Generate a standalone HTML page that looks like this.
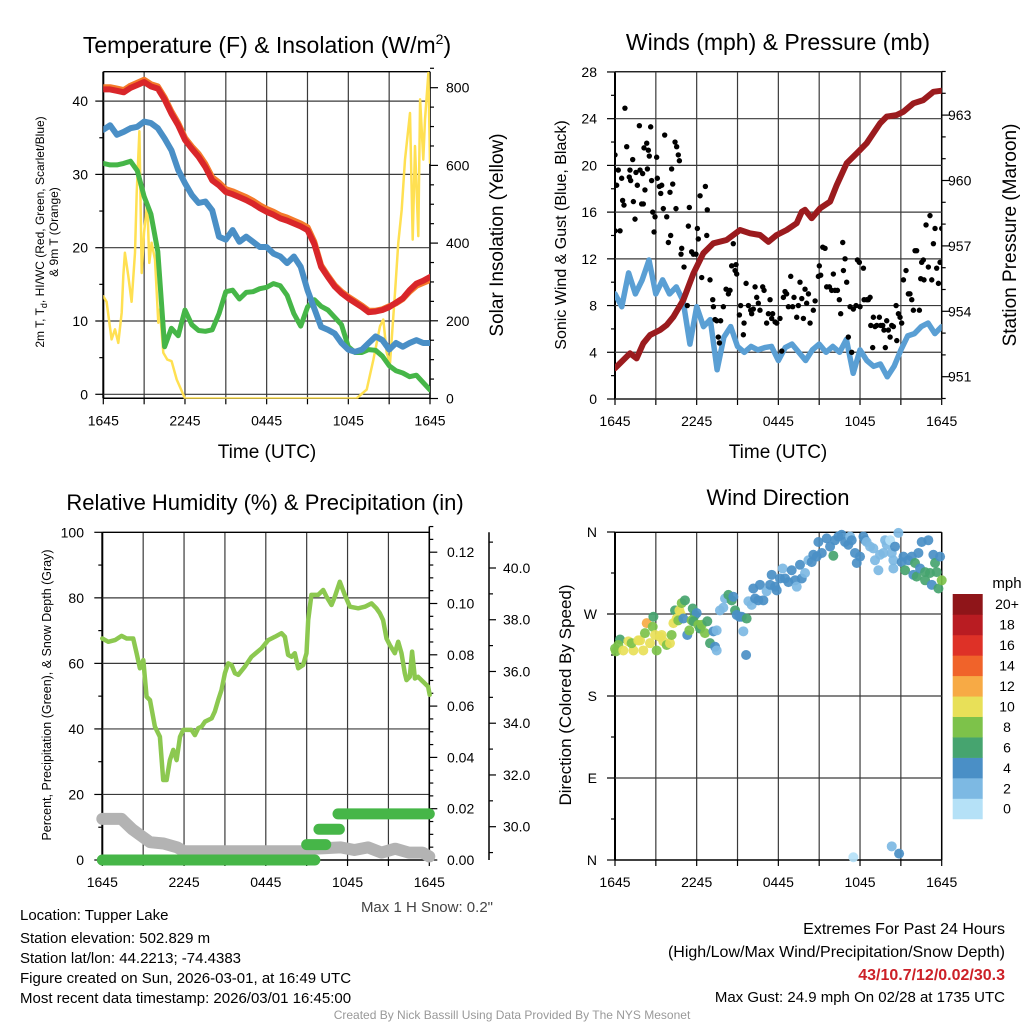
<!DOCTYPE html>
<html><head><meta charset="utf-8">
<style>
body{margin:0;background:#fff}
svg{display:block;font-family:"Liberation Sans",sans-serif}
</style></head>
<body>
<svg id="fig" width="1024" height="1024" viewBox="0 0 1024 1024">
<defs>
<clipPath id="c1"><rect x="103.3" y="71.7" width="326.7" height="327"/></clipPath>
<clipPath id="c2"><rect x="615" y="71.7" width="326.7" height="328"/></clipPath>
<clipPath id="c3"><rect x="95" y="532.3" width="345" height="340"/></clipPath>
<clipPath id="c4"><rect x="605" y="525" width="345" height="345"/></clipPath>
</defs>
<g id="layer"></g>
<text x="267" y="53" font-size="23" text-anchor="middle">Temperature (F) &amp; Insolation (W/m<tspan font-size="14" dy="-9">2</tspan><tspan dy="9">)</tspan></text>
<text x="778" y="50" font-size="23" text-anchor="middle">Winds (mph) &amp; Pressure (mb)</text>
<text x="265" y="510" font-size="22" text-anchor="middle">Relative Humidity (%) &amp; Precipitation (in)</text>
<text x="778" y="505" font-size="22" text-anchor="middle">Wind Direction</text>
<text x="267" y="458" font-size="19" text-anchor="middle">Time (UTC)</text>
<text x="778" y="458" font-size="19" text-anchor="middle">Time (UTC)</text>
<text transform="translate(44,232) rotate(-90)" font-size="12" text-anchor="middle">2m T, T<tspan font-size="9" dy="3">d</tspan><tspan dy="-3">, HI/WC (Red, Green, Scarlet/Blue)</tspan></text>
<text transform="translate(58,232) rotate(-90)" font-size="12" text-anchor="middle">&amp; 9m T (Orange)</text>
<text transform="translate(503,235) rotate(-90)" font-size="19" text-anchor="middle">Solar Insolation (Yellow)</text>
<text transform="translate(566,235) rotate(-90)" font-size="16" text-anchor="middle">Sonic Wind &amp; Gust (Blue, Black)</text>
<text transform="translate(1016,235) rotate(-90)" font-size="19" text-anchor="middle">Station Pressure (Maroon)</text>
<text transform="translate(51,695) rotate(-90)" font-size="12.5" text-anchor="middle">Percent, Precipitation (Green), &amp; Snow Depth (Gray)</text>
<text transform="translate(571,695) rotate(-90)" font-size="17" text-anchor="middle">Direction (Colored By Speed)</text>
<text x="1007" y="588" font-size="15" text-anchor="middle">mph</text>
<text x="493" y="912" font-size="15" text-anchor="end" fill="#444">Max 1 H Snow: 0.2"</text>
<g font-size="15">
<text x="20" y="920">Location: Tupper Lake</text>
<text x="20" y="943">Station elevation: 502.829 m</text>
<text x="20" y="963">Station lat/lon: 44.2213; -74.4383</text>
<text x="20" y="983">Figure created on Sun, 2026-03-01, at 16:49 UTC</text>
<text x="20" y="1003">Most recent data timestamp: 2026/03/01 16:45:00</text>
</g>
<g text-anchor="end">
<text x="1005" y="934" font-size="16">Extremes For Past 24 Hours</text>
<text x="1005" y="957" font-size="16">(High/Low/Max Wind/Precipitation/Snow Depth)</text>
<text x="1005" y="980" font-size="16" font-weight="bold" fill="#cc2027">43/10.7/12/0.02/30.3</text>
<text x="1005" y="1002" font-size="15">Max Gust: 24.9 mph On 02/28 at 1735 UTC</text>
</g>
<text x="512" y="1019" font-size="12" fill="#999" text-anchor="middle">Created By Nick Bassill Using Data Provided By The NYS Mesonet</text>
</svg>
<script>
// ---------- DATA ----------
const xTickHours = [0, 6, 12, 18, 24];
const xTickLabels = ["1645", "2245", "0445", "1045", "1645"];
const halfHours = [0,0.5,1,1.5,2,2.5,3,3.5,4,4.5,5,5.5,6,6.5,7,7.5,8,8.5,9,9.5,10,10.5,11,11.5,12,12.5,13,13.5,14,14.5,15,15.5,16,16.5,17,17.5,18,18.5,19,19.5,20,20.5,21,21.5,22,22.5,23,23.5,24];
const tempRed = [41.6,41.6,41.4,41.2,41.8,42.2,42.6,42.0,41.7,40.2,38.3,36.7,34.7,33.5,32.4,31.0,29.2,28.5,27.6,27.3,26.9,26.5,26.0,25.4,24.9,24.5,24.0,23.7,23.3,22.9,22.4,20.5,17.4,16.0,14.7,13.8,13.1,12.5,11.9,11.2,11.3,11.5,11.9,12.5,13.1,14.2,15.1,15.5,16.0];
const tempOrange = [41.9,41.9,41.7,41.5,42.1,42.5,42.9,42.3,42.0,40.5,38.6,37.0,35.0,33.8,32.8,31.4,29.6,28.9,28.0,27.7,27.3,26.9,26.4,25.8,25.3,24.9,24.4,24.1,23.7,23.3,22.8,20.8,17.6,16.2,14.9,14.0,13.3,12.7,12.1,11.4,11.4,11.6,12.0,12.4,13.0,14.0,14.8,15.2,15.6];
const tempBlue = [36.1,36.7,35.4,35.8,36.3,36.5,37.2,37.0,36.3,34.9,33.3,30.6,28.8,27.2,26.1,26.3,25.1,21.5,21.1,22.4,20.8,21.5,20.8,20.1,20.1,19.2,18.8,17.9,18.8,17.4,14.2,11.7,9.2,8.8,8.3,7.0,6.1,5.8,6.1,7.0,7.9,7.4,6.1,7.0,6.5,7.0,7.4,7.0,7.0];
const tempGreen = [31.5,31.3,31.3,31.5,31.8,30.5,27.0,24.6,19.5,6.5,9.0,8.0,11.5,9.5,8.7,8.6,8.8,11.0,14.0,14.2,13.0,13.9,14.0,14.4,14.6,15.1,14.8,13.5,11.0,9.3,11.9,12.9,12.0,11.5,10.5,9.5,6.5,5.7,5.7,6.1,6.0,5.2,3.9,3.2,2.9,2.4,2.6,1.6,0.6];
const solarHours = [0,0.24,0.61,0.86,1.1,1.35,1.47,1.59,1.84,2.08,2.33,2.45,2.65,2.82,2.99,3.23,3.38,3.55,3.8,4.04,4.16,4.41,4.7,5.02,5.39,6,18.6,19.35,19.84,20.33,20.57,20.82,21.06,21.43,21.67,21.92,22.16,22.53,22.73,22.9,23.14,23.27,23.51,23.63,23.88,24];
const solarValues = [263,249,152,178,143,221,315,375,315,249,375,529,688,323,426,504,349,401,358,195,229,118,100,96,49,0,0,23,100,186,203,118,91,272,401,486,615,735,409,650,418,770,615,718,838,607];
const windHours = halfHours;
const windSpeed = [9.0,7.9,10.8,9.0,10.2,11.9,9.0,10.2,9.0,9.6,8.4,4.7,7.9,6.2,6.8,2.5,5.3,6.2,4.5,4.0,4.5,4.2,4.4,4.5,3.3,4.4,4.7,4.0,3.3,4.2,4.7,4.0,4.5,4.0,5.1,2.2,4.2,3.3,2.8,3.0,1.9,2.8,4.2,5.4,5.6,6.2,6.5,5.6,6.2];
const pressHours = [0,1.1,1.59,2.08,2.57,3.31,3.8,4.29,5.02,5.76,6.49,7.23,8.2,9.18,9.92,10.65,11.27,11.88,12.61,13.35,13.72,13.96,14.45,15.06,15.8,16.29,17.02,17.76,18.49,18.98,19.47,19.96,20.69,21.18,21.92,22.65,23.39,24];
const pressValues = [951.39,952.07,951.84,952.53,952.91,953.14,953.37,953.75,954.52,955.74,956.66,957.12,957.27,957.73,957.58,957.5,957.19,957.5,957.73,958.04,958.57,958.65,958.27,958.72,959.03,959.79,960.79,961.25,961.71,962.17,962.62,962.93,963.0,963.15,963.54,963.69,964.07,964.12];
const gusts = [[0,20.9],[0,14.4],[0.37,14.4],[0.12,18.3],[0.24,19.6],[0.49,18.9],[0.56,17.0],[0.66,16.6],[0.86,21.6],[0.73,24.9],[1.1,19.6],[1.3,20.5],[1.05,19.0],[1.15,18.7],[1.35,16.9],[1.47,15.4],[1.54,19.4],[1.64,18.3],[1.79,23.4],[1.84,19.6],[1.96,16.7],[2.08,16.7],[2.03,19.3],[2.2,17.9],[2.13,21.5],[2.33,21.9],[2.45,21.3],[2.52,20.8],[2.38,19.7],[2.62,23.3],[2.69,18.7],[2.77,16.0],[2.87,14.3],[2.94,15.6],[3.06,20.7],[3.11,18.9],[3.26,18.2],[3.36,17.6],[3.43,18.3],[3.55,16.3],[3.65,22.6],[3.8,15.6],[3.92,13.4],[4.04,17.7],[4.09,14.0],[4.16,19.7],[4.24,18.4],[4.41,22.0],[4.53,21.6],[4.65,20.9],[4.73,20.4],[4.48,16.3],[4.9,12.9],[4.85,12.4],[5.07,11.3],[5.31,8.0],[5.39,14.8],[5.46,16.4],[5.63,12.6],[5.76,12.4],[5.95,12.4],[6.05,14.6],[6.12,13.7],[6.25,17.4],[6.37,10.4],[6.64,18.2],[6.74,14.0],[6.78,16.2],[6.98,10.2],[7.18,8.5],[7.23,7.9],[7.35,6.8],[7.47,6.7],[7.59,5.3],[7.67,4.8],[7.76,6.7],[7.96,7.9],[8.16,9.4],[8.33,9.0],[8.45,9.3],[8.69,13.3],[8.57,11.4],[8.82,11.0],[8.94,10.7],[8.89,11.5],[9.14,7.2],[9.23,8.0],[9.43,5.5],[9.48,6.5],[9.63,9.9],[9.8,8.0],[9.97,7.6],[10.04,7.3],[10.16,7.7],[10.29,9.6],[10.41,8.7],[10.53,8.2],[10.65,7.6],[10.85,9.6],[10.95,9.3],[11.14,6.5],[11.27,7.3],[11.39,8.5],[11.51,6.9],[11.58,7.3],[11.76,6.6],[11.88,6.5],[12.12,6.9],[12.25,4.1],[12.37,8.7],[12.49,9.2],[12.61,9.0],[12.74,7.9],[12.91,10.5],[13.05,7.9],[13.15,8.7],[13.35,7.0],[13.47,8.0],[13.59,10.0],[13.72,8.6],[13.84,6.9],[13.96,9.4],[14.08,8.2],[14.21,9.0],[14.33,6.5],[14.57,7.6],[14.7,8.4],[14.94,10.5],[15.01,11.4],[15.11,10.6],[15.26,13.0],[15.43,12.9],[15.55,9.6],[15.75,9.6],[15.92,9.3],[16.04,10.7],[16.16,9.3],[16.34,9.3],[16.48,8.5],[16.58,7.3],[16.73,13.4],[16.78,11.0],[16.9,12.0],[17.02,10.0],[17.14,5.3],[17.27,7.9],[17.39,4.0],[17.51,7.7],[17.71,8.0],[17.81,11.9],[17.95,11.7],[18.0,7.9],[18.25,11.2],[18.3,8.5],[18.49,8.5],[18.61,8.5],[18.74,8.7],[18.79,6.3],[18.93,4.4],[18.98,7.0],[19.1,6.2],[19.23,6.3],[19.42,7.0],[19.52,6.3],[19.67,6.3],[19.76,5.9],[19.86,4.4],[19.96,6.7],[20.08,5.9],[20.21,5.3],[20.33,6.3],[20.45,6.2],[20.65,8.0],[20.7,5.0],[20.82,7.3],[20.94,7.0],[21.06,6.5],[21.19,10.2],[21.38,11.0],[21.55,9.0],[21.67,9.0],[21.8,8.5],[21.92,7.6],[22.04,12.7],[22.16,12.7],[22.36,7.6],[22.46,10.3],[22.53,11.7],[22.65,11.9],[22.7,10.2],[22.85,14.9],[23.02,11.3],[23.14,15.7],[23.27,10.2],[23.39,13.3],[23.51,14.6],[23.63,11.2],[23.76,9.9],[23.88,11.7],[24.0,14.6]];
const rhData = [[0,67.6],[0.44,66.6],[0.93,67.1],[1.42,68.4],[1.78,67.6],[2.27,67.6],[2.52,63.1],[2.76,58.5],[3.01,61.0],[3.25,49.8],[3.5,48.8],[3.86,40.7],[4.23,37.6],[4.47,24.4],[4.72,24.4],[4.96,30.5],[5.21,33.6],[5.45,30.5],[5.7,37.6],[5.94,39.7],[6.55,39.7],[6.8,38.1],[7.04,40.2],[7.29,40.7],[7.53,42.2],[8.02,43.2],[8.26,45.3],[8.51,48.8],[8.75,51.9],[9.0,57.0],[9.24,60.0],[9.49,59.5],[9.73,57.0],[9.98,56.5],[10.46,59.0],[10.95,62.0],[11.69,64.6],[12.18,67.1],[12.67,68.1],[13.15,69.2],[13.4,68.1],[13.64,62.6],[13.89,62.0],[14.13,63.1],[14.38,58.5],[14.74,59.5],[14.99,63.1],[15.11,73.2],[15.35,80.9],[15.84,80.9],[16.21,82.4],[16.45,80.4],[16.82,77.8],[17.07,80.4],[17.43,84.9],[17.8,80.9],[18.17,77.3],[18.78,76.8],[19.27,77.3],[19.76,78.3],[20.12,76.8],[20.37,75.3],[20.61,73.2],[20.86,67.6],[21.1,65.6],[21.47,63.1],[21.72,66.6],[21.96,63.1],[22.2,57.0],[22.33,54.9],[22.57,55.9],[22.74,63.6],[22.94,55.4],[23.18,55.9],[23.42,54.9],[23.67,53.9],[23.91,52.9],[24.03,50.4]];
const snowData = [[0,30.3],[1.4,30.3],[2.2,29.9],[3.5,29.4],[4.5,29.35],[5.5,29.2],[6,29.05],[15,29.05],[15.5,29.15],[17.5,29.2],[18.5,29.1],[19.5,29.2],[20.5,29.0],[21.5,29.15],[22.5,29.0],[23.5,29.0],[24,28.85]];
const precipSteps = [[0,15.6,0],[15.0,16.4,0.006],[15.9,17.4,0.012],[17.3,24,0.018]];
const dirData = [[0,232,9],[0.07,229,9],[0.37,242,7],[0.24,236,9],[0.61,230,11],[0.98,240,11],[1.35,230,11],[1.22,238,9],[1.71,241,11],[1.84,241,11],[2.08,230,11],[2.33,260,13],[2.57,238,11],[2.2,249,9],[2.82,267,7],[2.77,256,9],[2.94,247,11],[3.06,230,9],[3.31,245,11],[3.43,247,11],[3.55,240,11],[3.8,236,9],[4.04,238,11],[4.16,247,9],[4.41,274,7],[4.29,260,11],[4.53,265,11],[4.73,274,11],[4.82,270,11],[4.9,282,9],[5.14,285,7],[4.65,263,9],[5.02,265,5],[5.31,247,5],[5.46,252,9],[5.71,276,7],[5.88,269,7],[6.0,271,5],[5.63,263,9],[5.76,262,7],[6.12,258,9],[6.25,254,7],[6.37,258,9],[6.61,249,9],[6.78,262,7],[6.98,238,7],[7.23,251,5],[7.47,252,3],[7.35,234,5],[7.47,230,3],[7.71,274,3],[7.96,277,3],[8.08,287,3],[8.33,291,7],[8.57,285,7],[8.69,289,5],[8.82,274,7],[8.94,269,5],[9.14,267,5],[9.31,267,5],[9.43,251,3],[9.63,225,5],[9.67,265,7],[9.8,284,3],[10.04,280,3],[10.16,298,5],[10.29,287,5],[10.53,285,5],[10.65,302,5],[10.9,285,5],[11.14,295,3],[11.39,302,5],[11.51,313,5],[11.76,300,5],[11.88,296,5],[12.12,309,5],[12.32,320,3],[12.49,309,5],[12.74,305,5],[12.98,318,5],[13.23,307,5],[13.35,300,3],[13.59,324,5],[13.72,309,5],[13.96,315,3],[14.21,329,3],[14.45,327,5],[14.57,335,5],[14.82,333,5],[14.94,349,5],[15.19,337,5],[15.55,353,5],[15.8,344,5],[16.04,334,7],[16.16,351,5],[16.41,355,5],[16.65,357,5],[16.9,349,5],[17.14,346,5],[17.27,355,3],[17.39,351,5],[17.63,337,5],[17.76,326,5],[18.0,333,5],[18.25,355,5],[18.37,351,5],[18.49,349,3],[18.74,344,3],[18.98,342,3],[19.1,329,3],[19.35,318,3],[19.47,335,3],[19.72,337,3],[19.84,351,3],[19.96,346,3],[20.21,351,1],[20.33,337,3],[20.45,329,3],[20.57,344,5],[20.45,320,3],[20.82,359,3],[21.06,327,5],[21.19,333,5],[21.31,318,7],[21.55,329,5],[21.8,333,5],[21.92,313,5],[22.04,326,7],[22.16,311,7],[22.29,337,5],[22.41,320,5],[22.53,349,5],[22.78,316,7],[22.78,307,7],[23.02,351,5],[23.14,315,7],[23.27,302,5],[23.39,335,5],[23.51,326,7],[23.63,316,7],[23.76,298,7],[23.88,333,5],[24.0,307,9],[17.51,3,1],[20.33,15,3],[20.87,7,5]];
const speedColors = ["#b5e1f7","#7db9e3","#4a8fc6","#46a46f","#7dc24a","#e8e058","#f7aa45","#f0632a","#de3127","#b91c22","#8f1519"];
const colorbarLabels = ["0","2","4","6","8","10","12","14","16","18","20+"];

// ---------- SCALES ----------
const x1 = h => 103.3 + h * 326.7 / 24;
const yT = v => 394.3 - v * 7.33;
const yI = v => 398.5 - v * 0.3885;
const x2 = h => 615 + h * 326.7 / 24;
const yW = v => 399 - v * 11.68;
const yP = p => 376.7 - (p - 951) * 21.8;
const x3 = h => 102.3 + h * 327 / 24;
const yRH = v => 860 - v * 3.277;
const yPr = p => 860 - p * 2565;
const ySn = s => 826.7 - (s - 30) * 25.87;
const x4 = x2;
const yD = d => 860 - d * 0.9111;

const NS = "http://www.w3.org/2000/svg";
const svg = document.getElementById("layer");
function mk(tag, attrs, parent) {
  const e = document.createElementNS(NS, tag);
  for (const k in attrs) e.setAttribute(k, attrs[k]);
  (parent || svg).appendChild(e);
  return e;
}
function group(name, clip) {
  const g = mk("g", clip ? {"clip-path": "url(#" + clip + ")"} : {});
  
  
  return g;
}
function line(g, a, b, c, d, col, w, name) {
  const e = mk("line", {x1: a, y1: b, x2: c, y2: d, stroke: col, "stroke-width": w}, g);
  
  
  return e;
}
function label(g, x, y, txt, anchor, size, name) {
  const e = mk("text", {x: x, y: y, "text-anchor": anchor, "font-size": size}, g);
  e.textContent = txt;
  
  
  return e;
}
function poly(g, xs, ys, col, w, name) {
  const pts = xs.map((x, i) => x.toFixed(1) + "," + ys[i].toFixed(1)).join(" ");
  const e = mk("polyline", {points: pts, fill: "none", stroke: col, "stroke-width": w, "stroke-linejoin": "round", "stroke-linecap": "round"}, g);
  
  
  return e;
}
const GRID = "#3a3a3a";

function frame(L, R, T, B, xs, name) {
  const g = group(name + "-axes");
  for (let h = 0; h <= 24; h += 3) {
    line(g, xs(h), T, xs(h), B, GRID, 1.2, name + "-vgrid");
    line(g, xs(h), B, xs(h), B + 6, "#000", 1.2, name + "-xtick");
  }
  xTickHours.forEach((h, i) => label(g, xs(h), B + 27, xTickLabels[i], "middle", 14, name + "-xtick-label"));
  line(g, L, T, R, T, "#000", 1.3, name + "-top-border");
  line(g, L, B, R, B, "#000", 1.5, name + "-bottom-border");
  line(g, L, T, L, B, "#000", 2, name + "-left-border");
  line(g, R, T, R, B, "#000", 1.5, name + "-right-border");
  return g;
}

// ---------- PANEL 1 ----------
(function () {
  const g = frame(103.3, 430, 71.7, 398.3, x1, "p1");
  for (let v = 0; v <= 40; v += 5) {
    const major = v % 10 === 0;
    if (major) line(g, 103.3, yT(v), 430, yT(v), GRID, 1.2, "p1-hgrid");
    line(g, 103.3 - (major ? 8 : 4), yT(v), 103.3, yT(v), "#000", 1.2, "p1-left-tick");
    if (major) label(g, 88, yT(v) + 5, String(v), "end", 14, "p1-left-tick-label");
  }
  for (let v = 0; v <= 850; v += 50) {
    const major = v % 200 === 0;
    line(g, 430, yI(v), 430 + (major ? 8 : 4), yI(v), "#000", 1.2, "p1-right-tick");
    if (major) label(g, 446, yI(v) + 5, String(v), "start", 14, "p1-right-tick-label");
  }
  const s = group("temperature-series", "c1");
  poly(s, solarHours.map(x1), solarValues.map(yI), "#ffe052", 2.5, "solar-insolation-line");
  poly(s, halfHours.map(x1), tempGreen.map(yT), "#46b648", 5, "dewpoint-green-line");
  poly(s, halfHours.map(x1), tempBlue.map(yT), "#4a8fc6", 6, "windchill-blue-line");
  poly(s, halfHours.map(x1), tempOrange.map(yT), "#f47a2a", 6, "temp-9m-orange-line");
  poly(s, halfHours.map(x1), tempRed.map(yT), "#d9262a", 6, "temp-2m-red-line");
})();

// ---------- PANEL 2 ----------
(function () {
  const g = frame(615, 941.7, 71.7, 399, x2, "p2");
  for (let v = 0; v <= 28; v += 2) {
    const major = v % 4 === 0;
    if (major) line(g, 615, yW(v), 941.7, yW(v), GRID, 1.2, "p2-hgrid");
    line(g, 615 - (major ? 8 : 4), yW(v), 615, yW(v), "#000", 1.2, "p2-left-tick");
    if (major) label(g, 597, yW(v) + 5, String(v), "end", 14, "p2-left-tick-label");
  }
  for (let p = 950; p <= 965; p += 1) {
    const major = p % 3 === 0;
    const y = yP(p);
    if (y < 71 || y > 399.5) continue;
    line(g, 941.7, y, 941.7 + (major ? 8 : 4), y, "#000", 1.2, "p2-right-tick");
    if (major) label(g, 948, y + 5, String(p), "start", 14, "p2-right-tick-label");
  }
  const s = group("winds-series", "c2");
  poly(s, windHours.map(x2), windSpeed.map(yW), "#5a9fd4", 5.5, "sonic-wind-line");
  poly(s, pressHours.map(x2), pressValues.map(yP), "#9b1b1e", 6, "station-pressure-line");
  gusts.forEach(d => {
    const c = mk("circle", {cx: x2(d[0]), cy: yW(d[1]), r: 2.7, fill: "#000"}, s);
    
    
  });
})();

// ---------- PANEL 3 ----------
(function () {
  const g = frame(102.3, 429.3, 532.3, 860, x3, "p3");
  for (let v = 0; v <= 100; v += 10) {
    const major = v % 20 === 0;
    if (major && v > 0 && v < 100) line(g, 102.3, yRH(v), 429.3, yRH(v), GRID, 1.2, "p3-hgrid");
    line(g, 102.3 - (major ? 8 : 4), yRH(v), 102.3, yRH(v), "#000", 1.2, "p3-left-tick");
    if (major) label(g, 84, yRH(v) + 5, String(v), "end", 14, "p3-left-tick-label");
  }
  for (let i = 0; i <= 26; i++) {
    const p = i * 0.005;
    const major = i % 4 === 0;
    line(g, 429.3, yPr(p), 429.3 + (major ? 8 : 4), yPr(p), "#000", 1.2, "p3-precip-tick");
    if (major) label(g, 447, yPr(p) + 5, p.toFixed(2), "start", 14, "p3-precip-tick-label");
  }
  line(g, 429.3, yPr(0.13), 429.3, 860, "#000", 1.5, "p3-precip-axis");
  line(g, 489, 532.3, 489, 860, "#000", 1.5, "p3-snow-axis");
  for (let s = 29; s <= 41; s++) {
    const major = s % 2 === 0;
    line(g, 489, ySn(s), 489 + (major ? 7 : 4), ySn(s), "#000", 1.2, "p3-snow-tick");
    if (major) label(g, 503, ySn(s) + 5, s.toFixed(1), "start", 14, "p3-snow-tick-label");
  }
  const s = group("humidity-series", "c3");
  poly(s, snowData.map(d => x3(d[0])), snowData.map(d => ySn(d[1])), "#b3b3b3", 12, "snow-depth-line");
  precipSteps.forEach(d => {
    const e = mk("line", {x1: x3(d[0]), y1: yPr(d[2]), x2: x3(d[1]), y2: yPr(d[2]), stroke: "#46b648", "stroke-width": 11, "stroke-linecap": "round"}, s);
    
    
  });
  poly(s, rhData.map(d => x3(d[0])), rhData.map(d => yRH(d[1])), "#8cc850", 4.5, "relative-humidity-line");
})();

// ---------- PANEL 4 ----------
(function () {
  const g = frame(615, 941.7, 532.3, 860, x4, "p4");
  const dirLabels = ["N", "E", "S", "W", "N"];
  for (let d = 0; d <= 360; d += 45) {
    const major = d % 90 === 0;
    if (major && d > 0 && d < 360) line(g, 615, yD(d), 941.7, yD(d), GRID, 1.2, "p4-hgrid");
    line(g, 615 - (major ? 8 : 4), yD(d), 615, yD(d), "#000", 1.2, "p4-left-tick");
    if (major) label(g, 597, yD(d) + 5, dirLabels[d / 90], "end", 14, "p4-left-tick-label");
  }
  const s = group("direction-series", "c4");
  dirData.forEach(d => {
    const idx = Math.min(10, Math.floor(d[2] / 2));
    const c = mk("circle", {cx: x4(d[0]), cy: yD(d[1]), r: 5, fill: speedColors[idx], "fill-opacity": 0.92}, s);
    
    
  });
  const cb = group("speed-colorbar");
  const bh = 20.45, top = 594;
  for (let i = 0; i < 11; i++) {
    const y = top + (10 - i) * bh;
    const r = mk("rect", {x: 952.7, y: y, width: 30, height: bh + 0.3, fill: speedColors[i]}, cb);
    
    
    label(cb, 1007, y + bh / 2 + 5, colorbarLabels[i], "middle", 14, "colorbar-label");
  }
})();
</script>
</body></html>
